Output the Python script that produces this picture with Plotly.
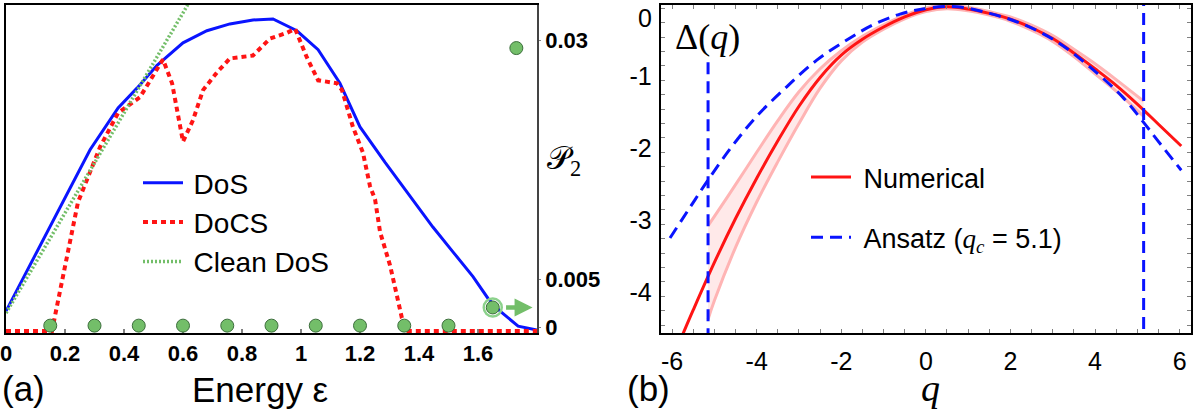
import plotly.graph_objects as go

# ---------------- data: panel (a) ----------------
dos_E = [0, 0.2, 0.285, 0.38, 0.444, 0.512, 0.6, 0.681, 0.759, 0.837, 0.905, 0.986, 1.058,
         1.132, 1.2, 1.285, 1.376, 1.447, 1.515, 1.583, 1.634, 1.675, 1.736, 1.8]
dos_v = [0.061, 0.407, 0.556, 0.684, 0.745, 0.815, 0.884, 0.921, 0.942, 0.954, 0.957, 0.921,
         0.863, 0.760, 0.626, 0.517, 0.404, 0.319, 0.243, 0.167, 0.100, 0.061, 0.015, 0.003]

docs_E = [0, 0.156, 0.166, 0.183, 0.207, 0.244, 0.319, 0.380, 0.454, 0.505, 0.532, 0.563,
          0.600, 0.634, 0.668, 0.715, 0.759, 0.837, 0.895, 0.953, 0.980, 1.020, 1.058, 1.122,
          1.139, 1.176, 1.210, 1.234, 1.251, 1.268, 1.302, 1.325, 1.342, 1.363, 1.8]
docs_v = [0, 0, 0.046, 0.122, 0.243, 0.395, 0.565, 0.669, 0.717, 0.793, 0.833, 0.760,
          0.581, 0.647, 0.739, 0.793, 0.836, 0.845, 0.897, 0.915, 0.927, 0.839, 0.769, 0.760,
          0.739, 0.626, 0.547, 0.444, 0.404, 0.304, 0.201, 0.109, 0.040, 0, 0]

clean_E = [0, 0.63]
clean_v = [0.055, 1.022]

p2_E = [0.15, 0.30, 0.45, 0.60, 0.75, 0.90, 1.05, 1.20, 1.35, 1.50, 1.65, 1.73]
p2_v = [0.0002, 0.0002, 0.0002, 0.0002, 0.0002, 0.0002, 0.0002, 0.0002, 0.0002, 0.0002,
        0.0021, 0.0292]

x_ticks_a = [0, 0.2, 0.4, 0.6, 0.8, 1.0, 1.2, 1.4, 1.6]
y2_ticks_a = [0, 0.005, 0.03]
y2_labels_a = ["0", "0.005", "0.03"]

# ---------------- data: panel (b) ----------------
num_q = [-5.8, -5.5, -5.0, -4.5, -4.0, -3.5, -3.0, -2.5, -2.0, -1.5, -1.0, -0.5, 0.0,
         0.5, 1.0, 1.5, 2.0, 2.5, 3.0, 3.5, 4.0, 4.5, 5.0, 5.5, 6.04]
num_v = [-4.60, -4.19, -3.53, -2.92, -2.36, -1.84, -1.36, -0.96, -0.65, -0.43, -0.26, -0.12,
         -0.02, 0.02, -0.01, -0.07, -0.15, -0.27, -0.42, -0.62, -0.84, -1.07, -1.33, -1.61,
         -1.913]

band_q = [-5.15, -5.0, -4.5, -4.0, -3.5, -3.0, -2.5, -2.0, -1.5, -1.0, -0.5, 0.0, 0.5,
          1.0, 1.5, 2.0, 2.5, 3.0, 3.5, 4.0, 4.5, 5.15]
band_hi = [-3.02, -2.89, -2.45, -2.00, -1.56, -1.16, -0.84, -0.59, -0.39, -0.23, -0.095,
           0.005, 0.045, 0.015, -0.045, -0.12, -0.235, -0.38, -0.57, -0.77, -0.99, -1.29]
band_lo = [-4.32, -4.06, -3.32, -2.69, -2.13, -1.60, -1.11, -0.73, -0.47, -0.29, -0.145,
           -0.045, -0.005, -0.035, -0.095, -0.18, -0.305, -0.46, -0.67, -0.91, -1.15, -1.50]

ans_q = [-6.05, -5.46, -5.18, -4.6, -4.0, -3.29, -2.58, -1.87, -1.25, -0.61, 0.02, 0.73,
         1.51, 2.29, 3.09, 3.87, 4.65, 5.13, 5.46, 6.04]
ans_v = [-3.19, -2.66, -2.41, -1.93, -1.50, -1.09, -0.72, -0.44, -0.23, -0.08, 0.0, 0.022,
         -0.07, -0.22, -0.46, -0.81, -1.23, -1.57, -1.82, -2.25]

qc_left_x = [-5.15, -5.15]
qc_left_y = [-0.75, -4.7]
qc_right_x = [5.15, 5.15]
qc_right_y = [0.2, -4.7]

x_ticks_b = [-6, -4, -2, 0, 2, 4, 6]
x_labels_b = ["-6", "-4", "-2", "0", "2", "4", "6"]
y_ticks_b = [0, -1, -2, -3, -4]
y_labels_b = ["", "-1", "-2", "-3", "-4"]   # the "0" label sits lower, drawn as a note
y_top_label = "0"

# ---------------- layout geometry ----------------
W, H = 1193, 413
ML, MR, MT, MB = 6, 2, 5, 80
PW, PH = W - ML - MR, H - MT - MB


def px(x):
    return (x - ML) / PW


def py(y):
    return (H - MB - y) / PH


SANS = "Liberation Sans, Arial, sans-serif"
SERIF = "Liberation Serif, Times New Roman, serif"
BLUE = "rgb(10,20,255)"
RED = "rgb(255,20,20)"
GREEN = "rgb(115,190,105)"
PINK = "rgb(255,180,180)"

fig = go.Figure()

# panel (a)
fig.add_trace(go.Scatter(x=dos_E, y=dos_v, mode="lines", name="\u2009DoS",
                         line=dict(color=BLUE, width=3), xaxis="x", yaxis="y",
                         legend="legend"))
fig.add_trace(go.Scatter(x=docs_E, y=docs_v, mode="lines", name="\u2009DoCS",
                         line=dict(color=RED, width=4, dash="5px,4px"), xaxis="x", yaxis="y",
                         legend="legend"))
fig.add_trace(go.Scatter(x=clean_E, y=clean_v, mode="lines", name="\u2009Clean DoS",
                         line=dict(color=GREEN, width=3.5, dash="2px,2px"), xaxis="x", yaxis="y",
                         legend="legend"))
fig.add_trace(go.Scatter(x=p2_E, y=p2_v, mode="markers", showlegend=False,
                         marker=dict(size=13, color=GREEN,
                                     line=dict(color="rgb(60,110,60)", width=1)),
                         xaxis="x", yaxis="y2"))
fig.add_trace(go.Scatter(x=[p2_E[-2]], y=[p2_v[-2]], mode="markers", showlegend=False,
                         marker=dict(size=18, symbol="circle-open", color="rgb(140,210,140)",
                                     line=dict(color="rgb(140,210,140)", width=2.5)),
                         xaxis="x", yaxis="y2"))

# panel (b)
fig.add_trace(go.Scatter(x=band_q, y=band_lo, mode="lines", showlegend=False,
                         line=dict(color=PINK, width=3, shape="spline"),
                         xaxis="x2", yaxis="y3"))
fig.add_trace(go.Scatter(x=band_q, y=band_hi, mode="lines", showlegend=False,
                         line=dict(color=PINK, width=3, shape="spline"),
                         fill="tonexty", fillcolor="rgba(255,215,215,0.55)",
                         xaxis="x2", yaxis="y3"))
fig.add_trace(go.Scatter(x=num_q, y=num_v, mode="lines", name="\u00a0Numerical",
                         line=dict(color=RED, width=3, shape="spline"),
                         xaxis="x2", yaxis="y3", legend="legend2", legendgroup="g1"))
fig.add_trace(go.Scatter(x=ans_q, y=ans_v, mode="lines",
                         name="\u00a0Ansatz (<span style='font-family:Liberation Serif'><i>q</i><sub><i>c</i></sub></span> = 5.1)",
                         line=dict(color=BLUE, width=3, dash="12px,7px", shape="spline"),
                         xaxis="x2", yaxis="y3", legend="legend2", legendgroup="g2"))
fig.add_trace(go.Scatter(x=qc_left_x, y=qc_left_y, mode="lines", showlegend=False,
                         line=dict(color=BLUE, width=3, dash="12px,7px"),
                         xaxis="x2", yaxis="y3"))
fig.add_trace(go.Scatter(x=qc_right_x, y=qc_right_y, mode="lines", showlegend=False,
                         line=dict(color=BLUE, width=3, dash="12px,7px"),
                         xaxis="x2", yaxis="y3"))

dom_a = [0, px(537)]
dom_b = [px(660.7), 1.0]

fig.update_layout(
    width=W, height=H,
    margin=dict(l=ML, r=MR, t=MT, b=MB, autoexpand=False),
    paper_bgcolor="white", plot_bgcolor="white",
    font=dict(family=SANS, color="black"),
    xaxis=dict(domain=dom_a, anchor="y", range=[0, 1.8], tickvals=x_ticks_a,
               ticks="inside", ticklen=4, tickcolor="gray", tickwidth=2,
               tickfont=dict(size=22, weight="bold", family=SANS),
               showline=True, linecolor="black", linewidth=2, mirror=True,
               showgrid=False, zeroline=False, layer="below traces",
               ticklabelstandoff=0, ticklabeloverflow="allow", automargin=False),
    yaxis=dict(domain=[0, 1], anchor="x", range=[-0.006, 1.0], showticklabels=False,
               ticks="", showline=True, linecolor="black", linewidth=2,
               showgrid=False, zeroline=False, automargin=False),
    yaxis2=dict(overlaying="y", side="right", anchor="x", range=[-0.00057, 0.0337],
                tickvals=y2_ticks_a, ticktext=y2_labels_a, ticks="outside", ticklen=2,
                tickcolor="gray", tickfont=dict(size=22, weight="bold", family=SANS),
                showline=True, linecolor="#444", linewidth=1.5, showgrid=False,
                zeroline=False, ticklabelstandoff=0, ticklabeloverflow="allow",
                automargin=False),
    xaxis2=dict(domain=dom_b, anchor="y3", range=[-6.27, 6.27], tickvals=x_ticks_b,
                ticktext=x_labels_b, ticks="inside", ticklen=4, tickcolor="gray",
                mirror="allticks", showline=True, linecolor="black", linewidth=2,
                showgrid=False, zeroline=False, tickfont=dict(size=25, family=SANS),
                minor=dict(dtick=0.5, ticks="inside", ticklen=4, tickcolor="gray"),
                ticklabelstandoff=5, ticklabeloverflow="allow", automargin=False),
    yaxis3=dict(domain=[0, 1], anchor="x2", range=[-4.51, 0.046], tickvals=y_ticks_b,
                ticktext=y_labels_b, ticks="inside", ticklen=4, tickcolor="gray",
                mirror="allticks", showline=True, linecolor="black", linewidth=2,
                showgrid=False, zeroline=False, tickfont=dict(size=25, family=SANS),
                minor=dict(dtick=0.2, ticks="inside", ticklen=4, tickcolor="gray"),
                ticklabelstandoff=2, ticklabelshift=-4, ticklabeloverflow="allow",
                automargin=False),
    legend=dict(x=px(138), y=py(158), xanchor="left", yanchor="top",
                bgcolor="rgba(0,0,0,0)", font=dict(size=28, family=SANS),
                itemwidth=40, tracegroupgap=0, traceorder="normal"),
    legend2=dict(x=px(806), y=py(153), xanchor="left", yanchor="top",
                 bgcolor="rgba(0,0,0,0)", font=dict(size=27, family=SANS),
                 itemwidth=40, tracegroupgap=22, traceorder="grouped"),
    showlegend=True,
)

annots = [
    dict(text="(a)", x=px(0), y=py(388), xanchor="left", yanchor="middle",
         font=dict(size=35, family=SANS)),
    dict(text="Energy ε", x=px(260), y=py(389), xanchor="center", yanchor="middle",
         font=dict(size=35, family=SANS)),
    dict(text="(b)", x=px(625), y=py(388), xanchor="left", yanchor="middle",
         font=dict(size=35, family=SANS)),
    dict(text="<i>q</i>", x=px(930), y=py(388), xanchor="center", yanchor="middle",
         font=dict(size=38, family=SERIF)),
    dict(text="Δ(<i>q</i>)", x=px(707), y=py(37), xanchor="center", yanchor="middle",
         font=dict(size=36, family=SERIF)),
    dict(text="𝒫<sub>2</sub>", x=px(545), y=py(160), xanchor="left", yanchor="middle",
         font=dict(size=32, family=SERIF)),
    dict(text=y_top_label, x=px(654), y=py(18), xanchor="right", yanchor="middle",
         font=dict(size=25, family=SANS)),
]
for a in annots:
    a.update(xref="paper", yref="paper", showarrow=False)
fig.update_layout(annotations=annots)

# arrow from the highlighted P2 point towards the right axis
fig.add_annotation(x=1.785, y=p2_v[-2], xref="x", yref="y2",
                   ax=1.69, ay=p2_v[-2], axref="x", ayref="y2",
                   text="", showarrow=True, arrowhead=2, arrowsize=0.8,
                   arrowwidth=4.5, arrowcolor=GREEN)

fig.write_html("out.html")
